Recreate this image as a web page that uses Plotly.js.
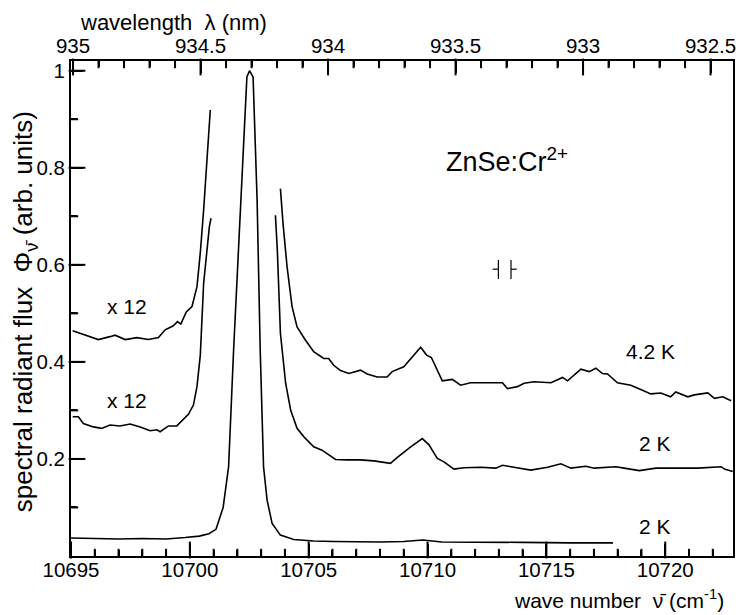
<!DOCTYPE html>
<html>
<head>
<meta charset="utf-8">
<script src="https://cdn.plot.ly/plotly-3.0.1.min.js"></script>
<style>html,body{margin:0;padding:0;background:#fff;}#chart{width:739px;height:615px;}</style>
</head>
<body>
<div id="chart"></div>
<script>
// ---- data ----
// bottom curve, 2 K, unscaled
const nuLow  = [10695.0, 10696.0, 10697.0, 10698.0, 10699.0, 10699.8, 10700.4, 10700.8, 10701.1, 10701.4, 10701.63, 10701.84, 10702.12, 10702.40, 10702.51, 10702.66, 10702.83, 10702.96, 10703.10, 10703.25, 10703.46, 10703.81, 10704.37, 10705.2, 10706.05, 10707.0, 10708.0, 10709.0, 10709.8, 10710.6, 10712.0, 10714.0, 10716.0, 10717.8];
const phiLow = [0.037, 0.036, 0.035, 0.036, 0.035, 0.038, 0.041, 0.046, 0.055, 0.100, 0.184, 0.424, 0.713, 0.987, 1.000, 0.987, 0.733, 0.424, 0.184, 0.115, 0.067, 0.043, 0.034, 0.031, 0.030, 0.029, 0.029, 0.030, 0.033, 0.029, 0.028, 0.028, 0.027, 0.027];
// middle curve, 2 K, x12 (left and right wings)
const nuMidL  = [10695.07, 10695.31, 10695.52, 10695.94, 10696.29, 10696.64, 10697.06, 10697.49, 10697.91, 10698.33, 10698.61, 10698.75, 10699.10, 10699.45, 10699.94, 10700.15, 10700.30, 10700.44, 10700.58, 10700.72, 10700.82, 10700.89];
const phiMidL = [0.287, 0.287, 0.273, 0.266, 0.263, 0.270, 0.268, 0.272, 0.266, 0.258, 0.260, 0.256, 0.268, 0.268, 0.292, 0.311, 0.349, 0.414, 0.562, 0.630, 0.678, 0.696];
const nuMidR  = [10703.60, 10703.68, 10703.81, 10704.03, 10704.24, 10704.51, 10704.79, 10705.21, 10705.56, 10705.91, 10706.13, 10706.62, 10707.18, 10707.74, 10708.44, 10708.73, 10709.29, 10709.78, 10710.06, 10710.41, 10710.69, 10711.11, 10711.53, 10712.24, 10712.87, 10713.15, 10713.57, 10714.34, 10715.05, 10715.61, 10716.03, 10716.66, 10717.01, 10717.92, 10718.27, 10718.91, 10719.61, 10720.52, 10721.37, 10722.35, 10722.49, 10722.84];
const phiMidR = [0.702, 0.630, 0.459, 0.356, 0.301, 0.263, 0.246, 0.225, 0.218, 0.206, 0.199, 0.198, 0.198, 0.196, 0.191, 0.203, 0.225, 0.242, 0.229, 0.201, 0.194, 0.179, 0.182, 0.183, 0.181, 0.187, 0.183, 0.177, 0.183, 0.190, 0.181, 0.185, 0.181, 0.184, 0.181, 0.176, 0.181, 0.181, 0.181, 0.184, 0.179, 0.174];
// top curve, 4.2 K, x12 (left and right wings)
const nuTopL  = [10695.07, 10695.38, 10695.66, 10696.15, 10696.64, 10696.85, 10697.28, 10697.77, 10698.26, 10698.68, 10698.96, 10699.29, 10699.48, 10699.62, 10699.85, 10700.09, 10700.30, 10700.44, 10700.58, 10700.72, 10700.82, 10700.86];
const phiTopL = [0.464, 0.459, 0.453, 0.446, 0.452, 0.455, 0.446, 0.450, 0.446, 0.450, 0.466, 0.474, 0.483, 0.478, 0.503, 0.514, 0.555, 0.625, 0.713, 0.816, 0.871, 0.919];
const nuTopR  = [10703.81, 10703.92, 10704.09, 10704.30, 10704.51, 10704.86, 10705.21, 10705.63, 10705.84, 10706.05, 10706.34, 10706.69, 10707.18, 10707.46, 10707.88, 10708.30, 10708.51, 10709.00, 10709.71, 10709.96, 10710.16, 10710.62, 10711.04, 10711.39, 10711.81, 10712.80, 10713.15, 10713.36, 10713.78, 10714.06, 10714.48, 10715.19, 10715.68, 10715.89, 10716.45, 10716.80, 10717.08, 10717.36, 10717.57, 10717.99, 10718.55, 10718.97, 10719.39, 10719.81, 10720.23, 10720.44, 10720.95, 10721.22, 10721.79, 10722.07, 10722.42, 10722.77];
const phiTopR = [0.757, 0.685, 0.596, 0.514, 0.472, 0.445, 0.421, 0.407, 0.407, 0.393, 0.382, 0.376, 0.383, 0.375, 0.369, 0.369, 0.380, 0.390, 0.430, 0.414, 0.409, 0.361, 0.364, 0.352, 0.357, 0.357, 0.357, 0.345, 0.349, 0.356, 0.359, 0.357, 0.368, 0.361, 0.385, 0.380, 0.387, 0.376, 0.375, 0.357, 0.352, 0.343, 0.334, 0.336, 0.328, 0.338, 0.328, 0.332, 0.336, 0.325, 0.328, 0.320];

// tick labels and tick marks
const nuTicks      = [10695, 10700, 10705, 10710, 10715, 10720];
const nuMinor      = [10696, 10697, 10698, 10699, 10701, 10702, 10703, 10704, 10706, 10707, 10708, 10709, 10711, 10712, 10713, 10714, 10716, 10717, 10718, 10719, 10721, 10722];
const lambdaTicks  = [935, 934.5, 934, 933.5, 933, 932.5];
const lambdaMinor  = [934.9, 934.8, 934.7, 934.6, 934.4, 934.3, 934.2, 934.1, 933.9, 933.8, 933.7, 933.6, 933.4, 933.3, 933.2, 933.1, 932.9, 932.8, 932.7, 932.6];
const phiTicks     = [0.2, 0.4, 0.6, 0.8, 1];
const phiTickText  = ['0.2', '0.4', '0.6', '0.8', '1'];
const phiMinor     = [0.1, 0.3, 0.5, 0.7, 0.9];

// spectral resolution marker (wave numbers of the two bars, flux span)
const resNu  = [10712.98, 10713.51];
const resPhi = [0.571, 0.610];
const resPhiMid = 0.591;
const resArm = 0.24;

// curve labels
const labelText = ['x 12', 'x 12', '4.2 K', '2 K', '2 K'];
const labelNu   = [10697.34, 10697.34, 10719.36, 10719.57, 10719.57];
const labelPhi  = [0.514, 0.321, 0.421, 0.232, 0.060];

// ---- axes geometry ----
const W = 739, H = 615;
const M = {l: 71, r: 6, t: 61, b: 59};
const X_RANGE = [10695, 10722.85];
const X2_RANGE = [935.008, 932.412];
const Y_RANGE = [0, 1.02];
const PW = W - M.l - M.r, PH = H - M.t - M.b;
const MAJ = 12, MIN = 6, TW = 2;               // tick lengths / width in px
const pxY = (Y_RANGE[1] - Y_RANGE[0]) / PH;    // data units per px
const pxX = (X_RANGE[1] - X_RANGE[0]) / PW;

// ---- build ----
const lineStyle = {color: '#000', width: 1.6};
function curve(x, y) {
  return {x: x, y: y, type: 'scatter', mode: 'lines', line: lineStyle, hoverinfo: 'skip', showlegend: false};
}
const resX = [resNu[0] - resArm, resNu[0], null, resNu[0], resNu[0], null, resNu[1], resNu[1], null, resNu[1], resNu[1] + resArm];
const resY = [resPhiMid, resPhiMid, null, resPhi[0], resPhi[1], null, resPhi[0], resPhi[1], null, resPhiMid, resPhiMid];

// inward tick marks: line-shaped markers centred half a tick length inside each axis
function vMarks(vals, base, len, dir, xaxis) {
  return {x: vals, y: vals.map(() => base + dir * (len / 2) * pxY), xaxis: xaxis || 'x', yaxis: 'y',
    type: 'scatter', mode: 'markers', cliponaxis: false, hoverinfo: 'skip', showlegend: false,
    marker: {symbol: 'line-ns-open', size: len, color: '#000', line: {color: '#000', width: TW}}};
}
function hMarks(vals, base, len) {
  return {x: vals.map(() => base + (len / 2) * pxX), y: vals, xaxis: 'x', yaxis: 'y',
    type: 'scatter', mode: 'markers', cliponaxis: false, hoverinfo: 'skip', showlegend: false,
    marker: {symbol: 'line-ew-open', size: len, color: '#000', line: {color: '#000', width: TW}}};
}

const traces = [
  curve(nuLow, phiLow),
  curve(nuMidL, phiMidL),
  curve(nuMidR, phiMidR),
  curve(nuTopL, phiTopL),
  curve(nuTopR, phiTopR),
  {x: resX, y: resY, type: 'scatter', mode: 'lines', line: {color: '#000', width: 1.2}, hoverinfo: 'skip', showlegend: false},
  vMarks(nuTicks, Y_RANGE[0], MAJ, 1),
  vMarks(nuMinor, Y_RANGE[0], MIN, 1),
  hMarks(phiTicks, X_RANGE[0], MAJ),
  hMarks(phiMinor, X_RANGE[0], MIN),
  vMarks(lambdaTicks, Y_RANGE[1], MAJ, -1, 'x2'),
  vMarks(lambdaMinor, Y_RANGE[1], MIN, -1, 'x2')
];

const FONT = 'Liberation Sans, Arial, Helvetica, sans-serif';
const tickFont = {family: FONT, size: 20.5, color: '#000'};
const annFont = {family: FONT, size: 21, color: '#000'};
const SP2 = '\u00a0\u00a0';

const annotations = labelText.map((t, i) => ({
  x: labelNu[i], y: labelPhi[i], xref: 'x', yref: 'y', text: t, showarrow: false,
  xanchor: 'center', yanchor: 'middle', font: annFont
}));
annotations.push({x: 10713.33, y: 0.817, xref: 'x', yref: 'y', text: 'ZnSe:Cr<sup>2+</sup>', showarrow: false,
  xanchor: 'center', yanchor: 'middle', font: {family: FONT, size: 27, color: '#000'}});
annotations.push({x: 0.0106, y: 1.0787, xref: 'paper', yref: 'paper', text: 'wavelength' + SP2 + 'λ (nm)', showarrow: false,
  xanchor: 'left', yanchor: 'middle', font: {family: FONT, size: 22, color: '#000'}});
annotations.push({x: 0.990, y: -0.087, xref: 'paper', yref: 'paper', text: 'wave number' + SP2 + 'ν̄ (cm<sup>-1</sup>)', showarrow: false,
  xanchor: 'right', yanchor: 'middle', font: {family: FONT, size: 21, color: '#000'}});
annotations.push({x: -0.069, y: 0.493, xref: 'paper', yref: 'paper', text: 'spectral radiant flux' + SP2 + 'Φ<sub>ν̄</sub> (arb. units)', showarrow: false,
  xanchor: 'center', yanchor: 'middle', textangle: -90, font: {family: FONT, size: 26, color: '#000'}});

const tickStyle = {ticks: 'inside', ticklen: MAJ, tickwidth: TW, tickcolor: '#000'};
const minorStyle = {ticks: 'inside', ticklen: MIN, tickwidth: TW, tickcolor: '#000', showgrid: false};

const layout = {
  width: W, height: H,
  margin: M,
  paper_bgcolor: '#fff', plot_bgcolor: '#fff',
  font: {family: FONT, color: '#000'},
  showlegend: false,
  xaxis: Object.assign({
    range: X_RANGE, showgrid: false, zeroline: false,
    showline: true, linecolor: '#000', linewidth: 2,
    tickmode: 'array', tickvals: nuTicks, ticktext: nuTicks.map(String),
    minor: Object.assign({tickvals: nuMinor}, minorStyle),
    tickfont: tickFont, ticklabelstandoff: -6
  }, tickStyle),
  xaxis2: Object.assign({
    overlaying: 'x', side: 'top', anchor: 'y',
    range: X2_RANGE, showgrid: false, zeroline: false,
    showline: true, linecolor: '#000', linewidth: 2,
    tickmode: 'array', tickvals: lambdaTicks, ticktext: lambdaTicks.map(String),
    minor: Object.assign({tickvals: lambdaMinor}, minorStyle),
    tickfont: tickFont, ticklabelstandoff: -2
  }, tickStyle),
  yaxis: Object.assign({
    range: Y_RANGE, showgrid: false, zeroline: false,
    showline: true, linecolor: '#000', linewidth: 2, mirror: true,
    tickmode: 'array', tickvals: phiTicks, ticktext: phiTickText,
    minor: Object.assign({tickvals: phiMinor}, minorStyle),
    tickfont: tickFont
  }, tickStyle),
  annotations: annotations
};

Plotly.newPlot('chart', traces, layout, {displayModeBar: false});
</script>
</body>
</html>
